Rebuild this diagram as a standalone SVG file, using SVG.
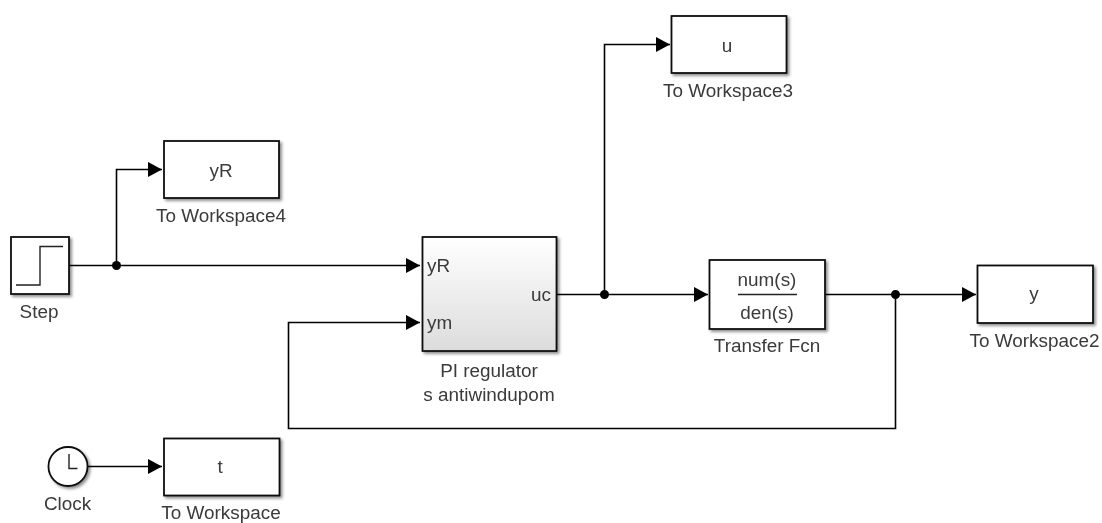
<svg xmlns="http://www.w3.org/2000/svg" width="1102" height="523" viewBox="0 0 1102 523">
<style>
text{font-family:"Liberation Sans",Arial,sans-serif;font-size:18.9px;fill:#3a3a3a;text-anchor:middle}
.st{text-anchor:start}
.en{text-anchor:end}
.b{fill:#fff;stroke:#111;stroke-width:1.8;filter:url(#s)}
.w{fill:none;stroke:#000;stroke-width:1.6}
.i{fill:none;stroke:#222;stroke-width:1.4}
.j{fill:#000}
</style>
<defs>
<filter id="s" x="-10%" y="-10%" width="125%" height="125%"><feDropShadow dx="2" dy="2" stdDeviation="1.5" flood-color="#000" flood-opacity=".45"/></filter>
<filter id="soft" x="0" y="0" width="100%" height="100%" filterUnits="userSpaceOnUse"><feGaussianBlur stdDeviation="0.45"/></filter>
<linearGradient id="g" x1="0" y1="0" x2="0" y2="1"><stop offset="0" stop-color="#fff"/><stop offset="1" stop-color="#dcdcdc"/></linearGradient>
<marker id="a" markerUnits="userSpaceOnUse" markerWidth="16" markerHeight="16" refX="15" refY="8" orient="auto"><path d="M1 0.500L15 8L1 15.500Z" fill="#000"/></marker>
</defs>
<g filter="url(#soft)">
<g id="connectors">
<path class="w" d="M69 265.500H420" marker-end="url(#a)"/>
<path class="w" d="M116.500 265.500V169.500H162" marker-end="url(#a)"/>
<path class="w" d="M556.500 294.500H708" marker-end="url(#a)"/>
<path class="w" d="M604.500 294.500V44.500H670" marker-end="url(#a)"/>
<path class="w" d="M825 294.500H976" marker-end="url(#a)"/>
<path class="w" d="M895.500 294.500V428.500H288.500V322.500H420" marker-end="url(#a)"/>
<path class="w" d="M87 466.500H162" marker-end="url(#a)"/>
<circle class="j" cx="116.500" cy="265.500" r="4.500"/>
<circle class="j" cx="604.500" cy="294.500" r="4.500"/>
<circle class="j" cx="895.500" cy="294.500" r="4.500"/>
</g>
<g id="step"><rect class="b" x="11" y="237" width="58" height="57"/><path class="i" d="M16 285H40V246.500H63"/><text x="39" y="318">Step</text></g>
<g id="toWorkspace4"><rect class="b" x="164" y="141" width="115" height="57"/><text x="221" y="177">yR</text><text x="221" y="222">To Workspace4</text></g>
<g id="pi"><rect class="b" x="422.500" y="237" width="134" height="114" style="fill:url(#g)"/><text class="st" x="427" y="271.500">yR</text><text class="st" x="427" y="329">ym</text><text class="en" x="551" y="300.500">uc</text><text x="489" y="376.500">PI regulator</text><text x="489" y="400.500">s antiwindupom</text></g>
<g id="toWorkspace3"><rect class="b" x="671.500" y="16" width="115" height="57"/><text x="727" y="51.500">u</text><text x="728" y="96.500">To Workspace3</text></g>
<g id="transferFcn"><rect class="b" x="709.500" y="260" width="115.500" height="69"/><text x="767" y="286">num(s)</text><path class="i" d="M738 294.500H797"/><text x="767" y="319">den(s)</text><text x="767" y="351.500">Transfer Fcn</text></g>
<g id="toWorkspace2"><rect class="b" x="977.500" y="265.500" width="115.500" height="57.500"/><text x="1034" y="300">y</text><text x="1034.500" y="346.500">To Workspace2</text></g>
<g id="clock"><circle class="b" cx="68" cy="466.500" r="19.500"/><path class="i" d="M69 454V468.500H77.500"/><text x="67.500" y="509.500">Clock</text></g>
<g id="toWorkspace"><rect class="b" x="164" y="438.500" width="115.500" height="57"/><text x="220" y="473">t</text><text x="221" y="519">To Workspace</text></g>
</g>
</svg>
